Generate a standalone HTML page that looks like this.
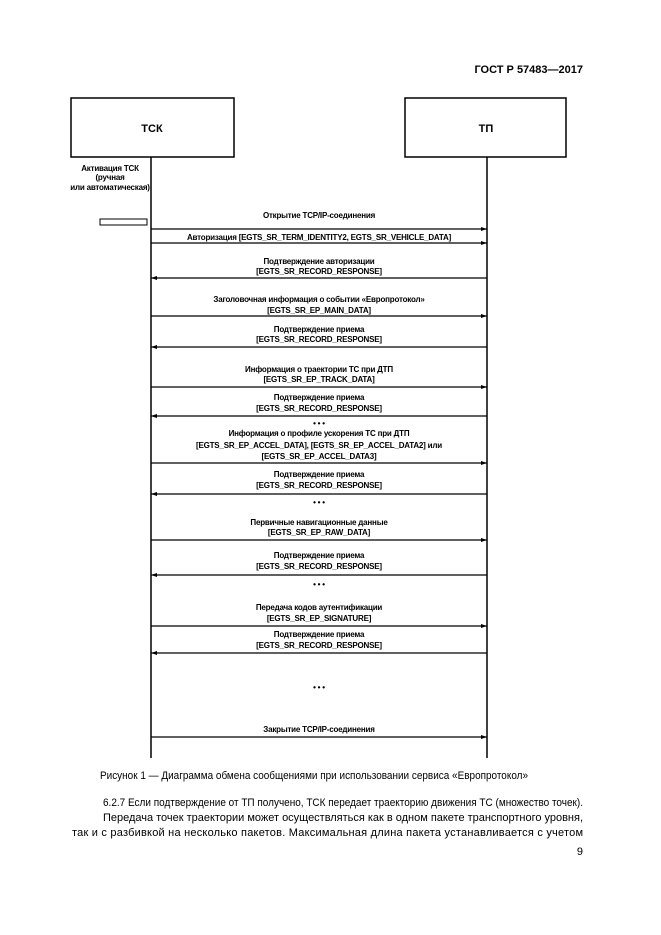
<!DOCTYPE html>
<html><head><meta charset="utf-8"><style>
body{margin:0;background:#fff;}
svg{display:block;}
.t{font-family:"Liberation Sans Narrow","Liberation Sans",sans-serif;font-size:8px;font-weight:bold;fill:#000;text-anchor:middle;letter-spacing:-0.2px}
.b{font-family:"Liberation Sans",sans-serif;font-size:11px;fill:#000}
</style></head><body>
<svg width="661" height="935" viewBox="0 0 661 935" xmlns="http://www.w3.org/2000/svg">
<defs>
<marker id="ar" markerWidth="6" markerHeight="4" refX="6" refY="2" orient="auto" markerUnits="userSpaceOnUse"><path d="M0,0 L6,2 L0,4z" fill="#000"/></marker>
</defs>
<text x="583" y="73" class="b" font-weight="bold" text-anchor="end">ГОСТ Р 57483—2017</text>
<rect x="71" y="98" width="163" height="59" fill="none" stroke="#000" stroke-width="1.5"/>
<rect x="405" y="98" width="161" height="59" fill="none" stroke="#000" stroke-width="1.5"/>
<text x="152" y="132" class="b" font-weight="bold" text-anchor="middle" font-size="12">ТСК</text>
<text x="486" y="132" class="b" font-weight="bold" text-anchor="middle" font-size="12">ТП</text>
<line x1="151" y1="157" x2="151" y2="758" stroke="#000" stroke-width="1.5"/>
<line x1="487" y1="157" x2="487" y2="758" stroke="#000" stroke-width="1.5"/>
<text x="110" y="171" class="t">Активация ТСК</text>
<text x="110" y="180" class="t">(ручная</text>
<text x="110" y="190" class="t">или автоматическая)</text>
<rect x="100" y="219" width="47" height="6" fill="none" stroke="#000" stroke-width="1"/>
<g stroke="#000" stroke-width="1.2" marker-end="url(#ar)">
<line x1="151" y1="229" x2="487" y2="229"/>
<line x1="151" y1="243" x2="487" y2="243"/>
<line x1="487" y1="278" x2="151" y2="278"/>
<line x1="151" y1="316" x2="487" y2="316"/>
<line x1="487" y1="347" x2="151" y2="347"/>
<line x1="151" y1="387" x2="487" y2="387"/>
<line x1="487" y1="416" x2="151" y2="416"/>
<line x1="151" y1="463" x2="487" y2="463"/>
<line x1="487" y1="494" x2="151" y2="494"/>
<line x1="151" y1="540" x2="487" y2="540"/>
<line x1="487" y1="575" x2="151" y2="575"/>
<line x1="151" y1="626" x2="487" y2="626"/>
<line x1="487" y1="653" x2="151" y2="653"/>
<line x1="151" y1="737" x2="487" y2="737"/>
</g>
<text x="319" y="218" class="t">Открытие TCP/IP-соединения</text>
<text x="319" y="240" class="t">Авторизация [EGTS_SR_TERM_IDENTITY2, EGTS_SR_VEHICLE_DATA]</text>
<text x="319" y="264" class="t">Подтверждение авторизации</text>
<text x="319" y="274" class="t">[EGTS_SR_RECORD_RESPONSE]</text>
<text x="319" y="302" class="t">Заголовочная информация о событии «Европротокол»</text>
<text x="319" y="313" class="t">[EGTS_SR_EP_MAIN_DATA]</text>
<text x="319" y="332" class="t">Подтверждение приема</text>
<text x="319" y="342" class="t">[EGTS_SR_RECORD_RESPONSE]</text>
<text x="319" y="372" class="t">Информация о траектории ТС при ДТП</text>
<text x="319" y="382" class="t">[EGTS_SR_EP_TRACK_DATA]</text>
<text x="319" y="400" class="t">Подтверждение приема</text>
<text x="319" y="411" class="t">[EGTS_SR_RECORD_RESPONSE]</text>
<text x="319" y="426" class="t">• • •</text>
<text x="319" y="436" class="t">Информация о профиле ускорения ТС при ДТП</text>
<text x="319" y="448" class="t">[EGTS_SR_EP_ACCEL_DATA], [EGTS_SR_EP_ACCEL_DATA2] или</text>
<text x="319" y="459" class="t">[EGTS_SR_EP_ACCEL_DATA3]</text>
<text x="319" y="477" class="t">Подтверждение приема</text>
<text x="319" y="488" class="t">[EGTS_SR_RECORD_RESPONSE]</text>
<text x="319" y="505" class="t">• • •</text>
<text x="319" y="525" class="t">Первичные навигационные данные</text>
<text x="319" y="535" class="t">[EGTS_SR_EP_RAW_DATA]</text>
<text x="319" y="558" class="t">Подтверждение приема</text>
<text x="319" y="569" class="t">[EGTS_SR_RECORD_RESPONSE]</text>
<text x="319" y="587" class="t">• • •</text>
<text x="319" y="610" class="t">Передача кодов аутентификации</text>
<text x="319" y="621" class="t">[EGTS_SR_EP_SIGNATURE]</text>
<text x="319" y="637" class="t">Подтверждение приема</text>
<text x="319" y="648" class="t">[EGTS_SR_RECORD_RESPONSE]</text>
<text x="319" y="690" class="t">• • •</text>
<text x="319" y="732" class="t">Закрытие TCP/IP-соединения</text>
<text x="100" y="779" class="b" font-size="9.5" textLength="428" lengthAdjust="spacingAndGlyphs">Рисунок 1 — Диаграмма обмена сообщениями при использовании сервиса «Европротокол»</text>
<text x="103" y="806" class="b" textLength="480" lengthAdjust="spacingAndGlyphs">6.2.7 Если подтверждение от ТП получено, ТСК передает траекторию движения ТС (множество точек).</text>
<text x="103" y="821" class="b" textLength="480" lengthAdjust="spacing">Передача точек траектории может осуществляться как в одном пакете транспортного уровня,</text>
<text x="72" y="836" class="b" textLength="511" lengthAdjust="spacing">так и с разбивкой на несколько пакетов. Максимальная длина пакета устанавливается с учетом</text>
<text x="583" y="855" class="b" text-anchor="end">9</text>
</svg>
</body></html>
